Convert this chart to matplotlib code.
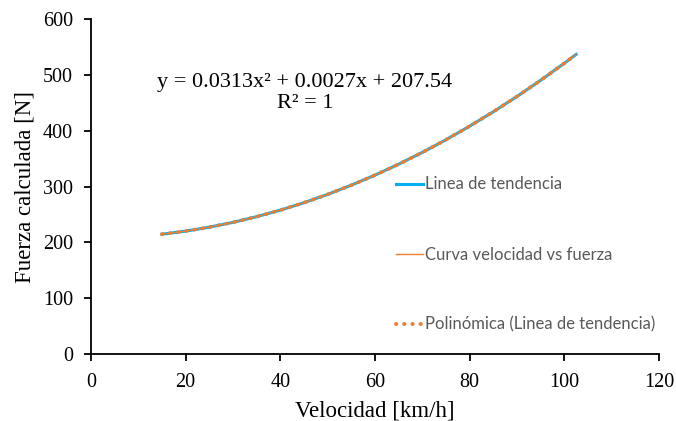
import numpy as np
import matplotlib
matplotlib.use("Agg")
import matplotlib.pyplot as plt

# data
velocidad = [15, 20, 25, 30, 35, 40, 45, 50, 55, 60, 65, 70, 75, 80, 85, 90, 95, 100, 102.5]
fuerza = [214.6, 220.1, 227.2, 235.8, 246.0, 257.7, 271.0, 285.9, 302.4, 320.4,
          340.0, 361.1, 383.8, 408.1, 433.9, 461.3, 490.3, 520.8, 536.7]
xticks = [0, 20, 40, 60, 80, 100, 120]
yticks = [0, 100, 200, 300, 400, 500, 600]

vel = np.array(velocidad)
fz = np.array(fuerza)
coef = np.polyfit(vel, fz, 2)
trend = np.polyval(coef, vel)

fig = plt.figure(figsize=(6.76, 4.21), dpi=100)
ax = fig.add_axes([0.1346, 0.1591, 0.8402, 0.7957])

ax.plot(vel, fz, color="#00B0F0", lw=2.2, label="Linea de tendencia", zorder=2)
ax.plot(vel, fz, color="#ED7D31", lw=1.0, label="Curva velocidad vs fuerza", zorder=3)
ax.plot(vel, trend, color="#ED7D31", lw=2.8, ls=(0, (0.1, 2.0)), dash_capstyle="round",
        label="Polinómica (Linea de tendencia)", zorder=4)

ax.set_xlim(0, 120)
ax.set_ylim(0, 600)
ax.set_xticks(xticks)
ax.set_yticks(yticks)
for s in ["top", "right"]:
    ax.spines[s].set_visible(False)
for s in ["left", "bottom"]:
    ax.spines[s].set_linewidth(1.3)
ax.tick_params(direction="out", length=5, width=1.3, labelsize=14.5)
ax.tick_params(axis="x", pad=9)
ax.tick_params(axis="y", pad=8)
for lab in ax.get_xticklabels() + ax.get_yticklabels():
    lab.set_family("Liberation Serif")

ax.set_xlabel("Velocidad [km/h]", family="Liberation Serif", fontsize=16.5, labelpad=6)
ax.set_ylabel("Fuerza calculada [N]", family="Liberation Serif", fontsize=16.5, labelpad=5)

ax.text(45.2, 467, "y = 0.0313x² + 0.0027x + 207.54\nR² = 1", ha="center", va="center",
        family="Liberation Serif", fontsize=16, linespacing=1.12)

leg = ax.legend(loc="upper left", bbox_to_anchor=(0.525, 0.55), frameon=False,
                prop={"family": "Lato", "size": 12}, labelspacing=3.25,
                handlelength=1.6, handletextpad=0.15, borderaxespad=0)
for t in leg.get_texts():
    t.set_color("#595959")

fig.savefig("out.png", dpi=100)
